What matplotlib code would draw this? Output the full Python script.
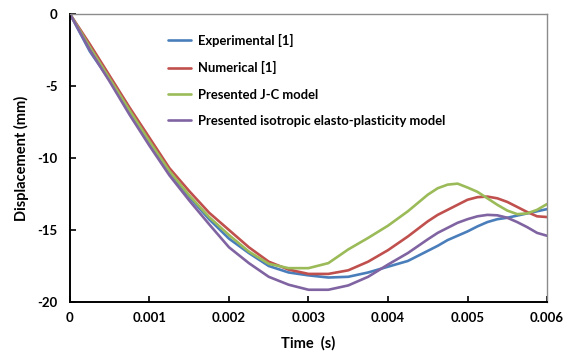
import matplotlib
matplotlib.use("Agg")
import matplotlib.pyplot as plt

plt.rcParams["font.family"] = ["Lato", "DejaVu Sans"]
plt.rcParams["axes.unicode_minus"] = False

# time (s)
t = [0, 0.00025, 0.0005, 0.00075, 0.001, 0.00125, 0.0015, 0.00175, 0.002,
     0.00225, 0.0025, 0.00275, 0.003, 0.00325, 0.0035, 0.00375, 0.004,
     0.00425, 0.0045, 0.004625, 0.00475, 0.004875, 0.005, 0.005125, 0.00525,
     0.005375, 0.0055, 0.005625, 0.00575, 0.005875, 0.006]

experimental = [0, -2.6, -4.6, -6.8, -9.0, -11.0, -12.7, -14.25, -15.6,
                -16.6, -17.5, -17.95, -18.15, -18.3, -18.25, -17.95, -17.55,
                -17.15, -16.45, -16.1, -15.7, -15.4, -15.1, -14.75, -14.45,
                -14.25, -14.15, -14.0, -13.85, -13.7, -13.55]
numerical = [0, -2.1, -4.3, -6.5, -8.6, -10.7, -12.3, -13.8, -15.0,
             -16.2, -17.2, -17.75, -18.05, -18.05, -17.8, -17.2, -16.4,
             -15.45, -14.4, -13.95, -13.6, -13.25, -12.9, -12.72, -12.68,
             -12.8, -13.05, -13.4, -13.75, -14.05, -14.1]
jc_model = [0, -2.3, -4.5, -6.7, -8.85, -10.9, -12.6, -14.1, -15.35,
            -16.5, -17.35, -17.65, -17.65, -17.3, -16.35, -15.55, -14.7,
            -13.7, -12.55, -12.1, -11.85, -11.78, -12.05, -12.35, -12.8,
            -13.25, -13.65, -13.9, -13.85, -13.6, -13.2]
iso_model = [0, -2.5, -4.7, -7.0, -9.15, -11.2, -12.95, -14.6, -16.2,
             -17.3, -18.25, -18.8, -19.15, -19.15, -18.85, -18.25, -17.4,
             -16.6, -15.65, -15.2, -14.85, -14.5, -14.25, -14.05, -13.95,
             -13.98, -14.15, -14.45, -14.8, -15.2, -15.4]

series = [
    ("Experimental [1]", experimental, "#4A7EBB"),
    ("Numerical [1]", numerical, "#C0504D"),
    ("Presented J-C model", jc_model, "#9BBB59"),
    ("Presented isotropic elasto-plasticity model", iso_model, "#8064A2"),
]

xticks = [0, 0.001, 0.002, 0.003, 0.004, 0.005, 0.006]
xticklabels = ["0", "0.001", "0.002", "0.003", "0.004", "0.005", "0.006"]
yticks = [0, -5, -10, -15, -20]

fig = plt.figure(figsize=(5.63, 3.56), dpi=100, facecolor="white")
ax = fig.add_axes([0.1243, 0.1517, 0.8473, 0.809])

for label, y, c in series:
    ax.plot(t, y, color=c, linewidth=1.9, label=label,
            solid_capstyle="round", solid_joinstyle="round")

ax.set_xlim(0, 0.006)
ax.set_ylim(-20, 0)
ax.set_xticks(xticks)
ax.set_xticklabels(xticklabels, fontsize=9.5, fontweight="bold")
ax.set_yticks(yticks)
ax.set_yticklabels([str(v) for v in yticks], fontsize=9.5, fontweight="bold")
ax.tick_params(direction="in", length=4, width=1.2, color="black")
ax.tick_params(axis="y", pad=9)
ax.tick_params(axis="x", pad=7)

for s in ["left", "bottom"]:
    ax.spines[s].set_color("black")
    ax.spines[s].set_linewidth(1.4)
for s in ["top", "right"]:
    ax.spines[s].set_color("#8C8C8C")
    ax.spines[s].set_linewidth(1.0)

ax.set_xlabel("Time  (s)", fontsize=10.5, fontweight="bold", labelpad=9)
ax.set_ylabel("Displacement (mm)", fontsize=10.5, fontweight="bold", labelpad=6)

leg = ax.legend(loc="upper left", bbox_to_anchor=(0.181, 0.972), frameon=False,
                prop={"size": 9.4, "weight": "bold"}, handlelength=1.75,
                labelspacing=1.1, handletextpad=0.55)

fig.savefig("out.png", dpi=100, facecolor="white")
